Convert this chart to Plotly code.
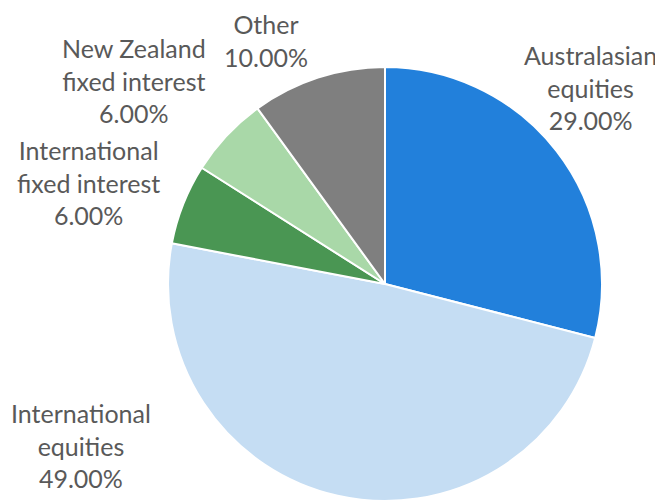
import plotly.graph_objects as go

categories = ["Australasian equities", "International equities", "International fixed interest",
              "New Zealand fixed interest", "Other"]
label_lines = [["Australasian", "equities"], ["International", "equities"],
               ["International", "fixed interest"], ["New Zealand", "fixed interest"], ["Other"]]
values = [29.0, 49.0, 6.0, 6.0, 10.0]
colors = ["#2280DB", "#C5DDF3", "#4A9653", "#A9D8A8", "#7F7F7F"]

OFF = 8  # page body margin
W, H = 663 - OFF, 501 - OFF
cx, cy, r = 385 - OFF, 284 - OFF, 217  # pixel centre/radius within figure

# label anchor positions in screen pixels (centre of text block)
label_pos = [(590, 87), (81, 445), (88, 182), (134, 80), (266, 40)]

fig = go.Figure(go.Pie(
    labels=categories, values=values, sort=False, direction="clockwise", rotation=0,
    marker=dict(colors=colors, line=dict(color="white", width=2)),
    textinfo="none", hoverinfo="label+percent", showlegend=False,
    domain=dict(x=[(cx - r) / W, (cx + r) / W], y=[0, (2 * (H - cy)) / H]),
))

anns = []
for lines, v, (px, py) in zip(label_lines, values, label_pos):
    txt = "<br>".join(lines + [f"{v:.2f}%"])
    anns.append(dict(x=(px - OFF) / W, y=1 - (py - OFF) / H, xref="paper", yref="paper", text=txt,
                     showarrow=False, xanchor="center", yanchor="middle", align="center",
                     font=dict(family="Lato", size=25, color="#595959")))

fig.update_layout(width=W, height=H, margin=dict(l=0, r=0, t=0, b=0),
                  paper_bgcolor="white", plot_bgcolor="white", annotations=anns)
fig.write_html("out.html")
